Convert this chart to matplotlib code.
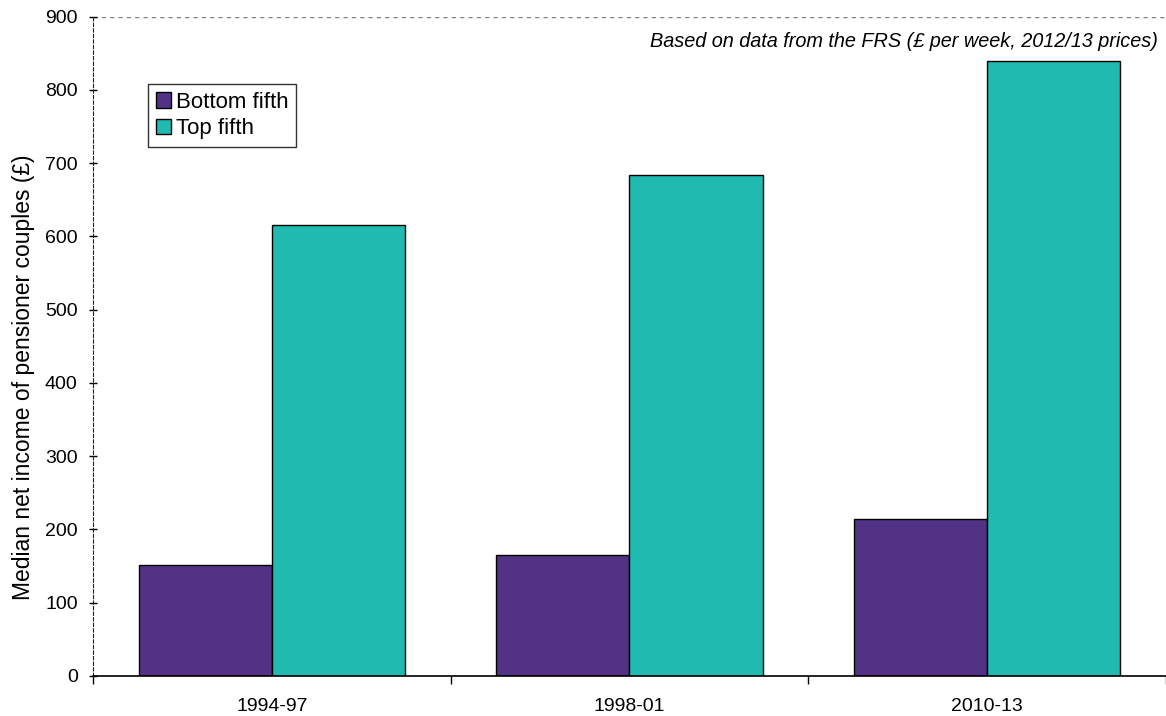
import matplotlib
matplotlib.use("Agg")
import matplotlib.pyplot as plt
import numpy as np

categories = ["1994-97", "1998-01", "2010-13"]
bottom_fifth = [152, 165, 215]
top_fifth = [616, 684, 839]
series_names = ["Bottom fifth", "Top fifth"]
colors = ["#513285", "#21BAB0"]

plt.rcParams['font.family'] = ['Liberation Sans', 'DejaVu Sans']

fig = plt.figure(figsize=(11.66, 7.16), dpi=100)
ax = fig.add_axes([93/1166, 1 - 676/716, (1166 - 93)/1166, (676 - 16.7)/716])

x = np.arange(len(categories))
w = 0.372
ax.bar(x - w/2, bottom_fifth, w, color=colors[0], edgecolor="black", linewidth=1.0, label=series_names[0], zorder=3)
ax.bar(x + w/2, top_fifth, w, color=colors[1], edgecolor="black", linewidth=1.0, label=series_names[1], zorder=3)

ax.set_xlim(-0.5, 2.5)
ax.set_ylim(0, 900)
ax.set_yticks(range(0, 901, 100))
ax.set_xticks(x)
ax.set_xticklabels(categories, fontsize=14)
ax.set_xticks([-0.5, 0.5, 1.5, 2.5], minor=True)
ax.tick_params(axis='x', which='major', length=0, pad=16)
ax.tick_params(axis='x', which='minor', length=6, width=1, direction='out')
ax.tick_params(axis='y', length=6, width=1, direction='inout', labelsize=14, pad=8)

for y in (0, 900):
    ax.axhline(y, color="#808080", linestyle=(0, (3, 3)), linewidth=1, zorder=1)

ax.spines['top'].set_visible(False)
ax.spines['right'].set_visible(False)
ax.spines['left'].set_linestyle((0, (3, 2)))
ax.spines['left'].set_color('#222222')
ax.spines['bottom'].set_linewidth(1.2)
ax.spines['bottom'].set_zorder(4)

ax.set_ylabel("Median net income of pensioner couples (£)", fontsize=16.5, labelpad=7)
ax.yaxis.label.set_y(0.453)

ax.text(0.992, 0.963, "Based on data from the FRS (£ per week, 2012/13 prices)",
        transform=ax.transAxes, ha='right', va='center', style='italic', fontsize=14.3)

leg = ax.legend(loc='upper left', bbox_to_anchor=((148 - 93)/1073, (676 - 84)/659.3),
                fontsize=16, frameon=True, fancybox=False, handlelength=0.7, handleheight=0.7,
                handletextpad=0.2, borderpad=0.35, labelspacing=0.25, borderaxespad=0)
leg.get_frame().set_edgecolor('black')
leg.get_frame().set_linewidth(1)
for h in leg.legend_handles:
    h.set_edgecolor('black')
    h.set_linewidth(1)

fig.savefig("out.png", dpi=100)
